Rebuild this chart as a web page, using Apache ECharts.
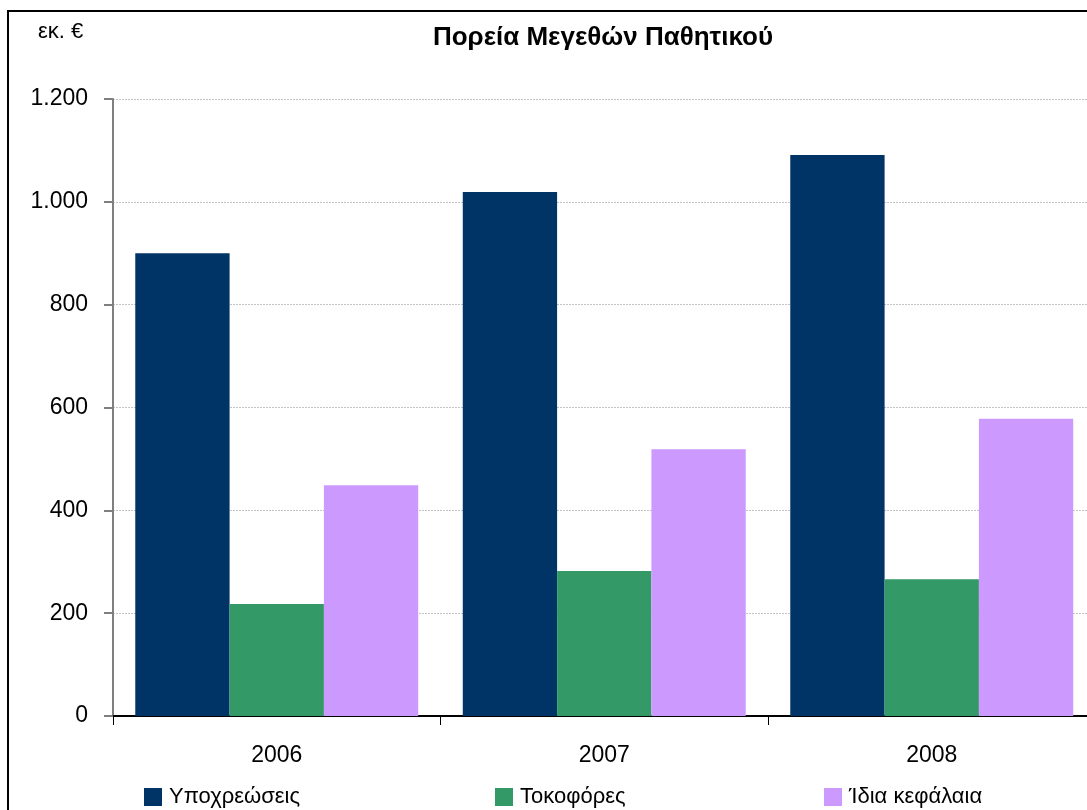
<!DOCTYPE html>
<html>
<head>
<meta charset="utf-8">
<script src="https://cdn.jsdelivr.net/npm/echarts@6/dist/echarts.min.js"></script>
<style>
  html, body { margin: 0; padding: 0; background: #fff; overflow: hidden; }
  /* The plot runs slightly past the right edge of the page, so the canvas is a bit wider */
  #chart { width: 1100px; height: 810px; }
</style>
</head>
<body>
<div id="chart"></div>
<script>
// Years on the category axis
const years = ['2006', '2007', '2008'];

// Liabilities breakdown, in million euros
const obligations = [900, 1019, 1091];     // Υποχρεώσεις
const interestBearing = [218, 282, 266];   // Τοκοφόρες
const equity = [449, 519, 578];            // Ίδια κεφάλαια

const seriesNames = ['Υποχρεώσεις', 'Τοκοφόρες', 'Ίδια κεφάλαια'];
const seriesColors = ['#003366', '#339966', '#CC99FF'];

const yTicks = { min: 0, max: 1200, interval: 200 };

const FONT = "'Liberation Sans Narrow', 'Liberation Sans', Arial, sans-serif";

const chart = echarts.init(document.getElementById('chart'), null, { renderer: 'canvas' });

// Format thousands with a dot, Greek style (1.200)
function fmt(v) {
  return String(v).replace(/\B(?=(\d{3})+(?!\d))/g, '.');
}

function legendFor(i, left) {
  return {
    data: [seriesNames[i]],
    left: left,
    top: 781,
    icon: 'rect',
    itemWidth: 18,
    itemHeight: 18,
    itemGap: 0,
    textStyle: { fontFamily: FONT, fontSize: 22, color: '#000', padding: [0, 0, 0, 2] }
  };
}

const option = {
  backgroundColor: '#fff',
  animation: false,
  title: {
    text: 'Πορεία Μεγεθών Παθητικού',
    left: 598,
    textAlign: 'center',
    top: 20,
    textStyle: { fontFamily: FONT, fontSize: 26, fontWeight: 'bold', color: '#000' }
  },
  legend: [legendFor(0, 139), legendFor(1, 490), legendFor(2, 819)],
  grid: { left: 113, top: 99, width: 982.5, height: 617, containLabel: false },
  xAxis: {
    type: 'category',
    data: years,
    axisLine: { lineStyle: { color: '#000', width: 2 } },
    axisTick: { show: true, length: 9, lineStyle: { color: '#000', width: 1 } },
    axisLabel: { fontFamily: FONT, fontSize: 23, color: '#000', margin: 28 }
  },
  yAxis: {
    type: 'value',
    min: yTicks.min,
    max: yTicks.max,
    interval: yTicks.interval,
    axisLine: { show: true, lineStyle: { color: '#7f7f7f', width: 2 } },
    axisTick: { show: true, length: 9, lineStyle: { color: '#7f7f7f', width: 2 } },
    axisLabel: { fontFamily: FONT, fontSize: 23, color: '#000', margin: 25, formatter: fmt },
    splitLine: { lineStyle: { color: '#c4c4c4', width: 1, type: [2, 1] } }
  },
  series: [
    { name: seriesNames[0], type: 'bar', data: obligations, itemStyle: { color: seriesColors[0] }, barGap: '0%', barCategoryGap: '13.6%' },
    { name: seriesNames[1], type: 'bar', data: interestBearing, itemStyle: { color: seriesColors[1] }, barGap: '0%', barCategoryGap: '13.6%' },
    { name: seriesNames[2], type: 'bar', data: equity, itemStyle: { color: seriesColors[2] }, barGap: '0%', barCategoryGap: '13.6%' }
  ],
  graphic: [
    {
      type: 'rect',
      shape: { x: 8, y: 11, width: 1100, height: 820 },
      style: { fill: 'none', stroke: '#000', lineWidth: 2 },
      silent: true
    },
    {
      type: 'text',
      left: 38,
      top: 21,
      style: { text: 'εκ. €', fontFamily: FONT, fontSize: 22, fill: '#000' }
    }
  ]
};

chart.setOption(option);
</script>
</body>
</html>
